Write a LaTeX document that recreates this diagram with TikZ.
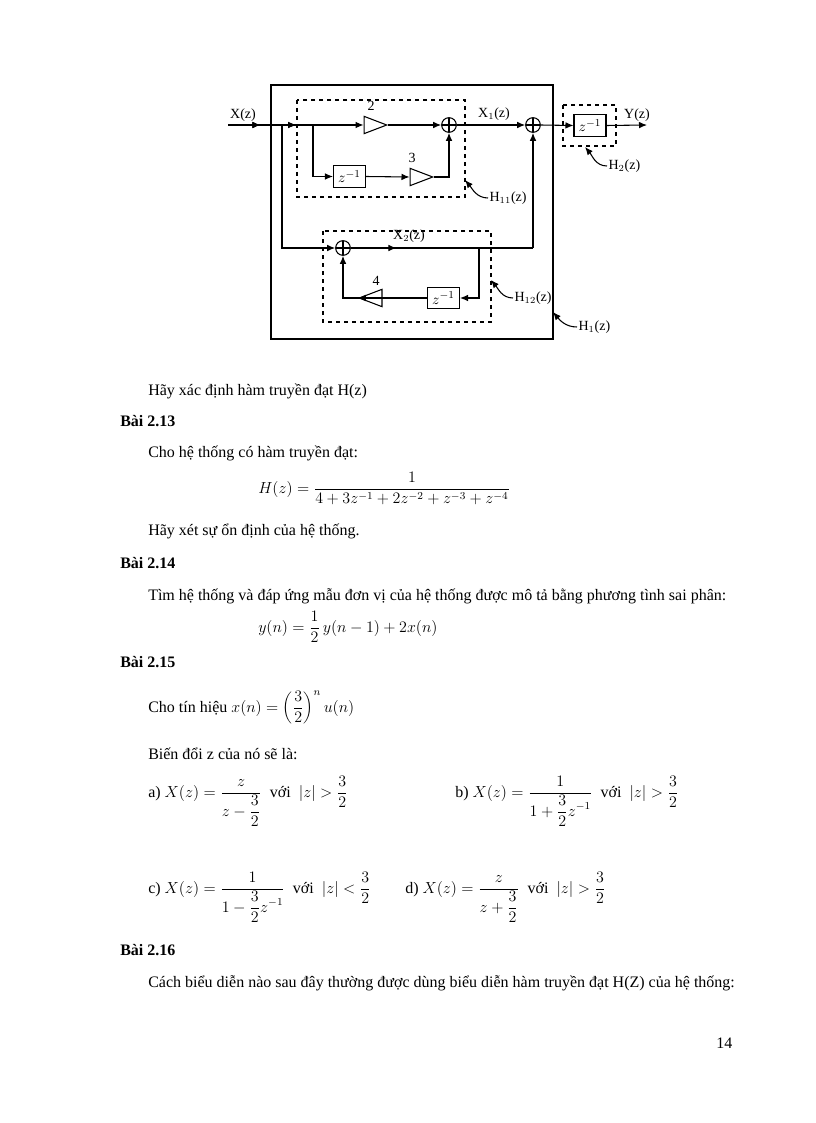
\documentclass[tikz,border=0pt]{standalone}
\usepackage{fontspec}
\setmainfont{Liberation Serif}
\usetikzlibrary{shapes.geometric,arrows.meta,decorations.markings}
\tikzset{
 sumn/.style={circle,draw,thick,minimum size=11pt,inner sep=0pt,path picture={\draw[thick] (path picture bounding box.north)--(path picture bounding box.south) (path picture bounding box.west)--(path picture bounding box.east);}},
 zbox/.style={draw,thick,minimum width=24pt,minimum height=16pt,inner sep=0pt,font=\fontsize{11}{12}\selectfont},
 gainr/.style={isosceles triangle,draw,thick,isosceles triangle stretches,minimum width=13pt,minimum height=17pt,inner sep=0pt},
 gainl/.style={gainr,shape border rotate=180},
 dbox/.style={draw,thick,dashed},
 sig/.style={thick},
 arr/.style={thick,-{Latex[length=6pt,width=5pt]}},
 marr/.style={postaction={decorate},decoration={markings,mark=at position #1 with {\arrow{Latex[length=6pt,width=5pt]}}}},
 lab/.style={font=\fontsize{10.5}{12}\selectfont,inner sep=1pt},
 callout/.style={arr,out=180,in=-50},
 txt/.style={anchor=base west,inner sep=0pt,font=\fontsize{12}{14}\selectfont},
 bai/.style={txt,font=\fontsize{12}{14}\selectfont\bfseries},
}
\newcommand{\tf}[2]{\displaystyle\frac{\displaystyle #1}{\displaystyle #2}}
\begin{document}
\begin{tikzpicture}[x=0.75pt,y=-0.75pt]
\useasboundingbox (0,0) rectangle (816,1123);
% frames
\draw[thick] (271,85) rectangle (553,339);
\draw[dbox] (297,100) rectangle (465,197);
\draw[dbox] (323,231) rectangle (491,322);
\draw[dbox] (563,105) rectangle (616,146);
% blocks
\node[sumn] (s1) at (449,125) {};
\node[sumn] (s2) at (533,125) {};
\node[sumn] (s3) at (343,248) {};
\node[gainr] (g2) at (370,125) {};
\node[gainr] (g3) at (416,177) {};
\node[gainl] (g4) at (376,298) {};
\node[zbox] (z1) at (349.5,176.5) {$z^{-1}$};
\node[zbox] (z2) at (590,125.5) {$z^{-1}$};
\node[zbox] (z3) at (443.5,298) {$z^{-1}$};
\coordinate (in) at (228,125);
\coordinate (b1) at (282,125);
\coordinate (b2) at (313,125);
\coordinate (b3) at (282,248);
\coordinate (c2) at (533,248);
\coordinate (c3) at (479,248);
\coordinate (out) at (647,125);
% connectors
\draw[sig,marr=0.38,marr=0.8] (in) -- (b2);
\draw[arr] (b2) -- (g2.west);
\draw[arr] (g2.east) -- (s1.west);
\draw[arr] (s1.east) -- (s2.west);
\draw[arr] (s2.east) -- (z2.west);
\draw[arr] (z2.east) -- (out);
\draw[arr] (b2) |- (z1.west);
\draw[arr] (z1.east) -- (g3.west);
\draw[arr] (g3.east) -| (s1.south);
\draw[arr] (b1) |- (s3.west);
\draw[sig,marr=0.25] (s3.east) -- (c2);
\draw[arr] (c2) -- (s2.south);
\draw[arr] (c3) |- (z3.east);
\draw[arr] (z3.west) -- (g4.west);
\draw[arr] (g4.east) -| (s3.south);
% labels
\node[lab] (lx) at (243,115) {X(z)};
\node[lab] (lx1) at (494,114) {X$_1$(z)};
\node[lab] (ly) at (637,115) {Y(z)};
\node[lab] (lx2) at (409,236) {X$_2$(z)};
\node[lab] (l2) at (371,106) {2};
\node[lab] (l3) at (412,158) {3};
\node[lab] (l4) at (376,281) {4};
\node[lab,anchor=west] (h11) at (488,198) {H$_{11}$(z)};
\node[lab,anchor=west] (h12) at (513,298) {H$_{12}$(z)};
\node[lab,anchor=west] (h2) at (607,166) {H$_2$(z)};
\node[lab,anchor=west] (h1) at (577,327) {H$_1$(z)};
\coordinate (t11) at (465,180);
\coordinate (t12) at (491,280);
\coordinate (t2) at (585,147);
\coordinate (t1) at (553,312);
\draw[callout] (h11.west) to (t11);
\draw[callout] (h12.west) to (t12);
\draw[callout] (h2.west) to (t2);
\draw[callout] (h1.west) to (t1);
% page text
\node[txt] (p1) at (148,395) {Hãy xác định hàm truyền đạt H(z)};
\node[bai] (p2) at (120,426) {Bài 2.13};
\node[txt] (p3) at (148,457) {Cho hệ thống có hàm truyền đạt:};
\node[txt] (p4) at (258,493) {$\displaystyle H(z)=\frac{1}{4+3z^{-1}+2z^{-2}+z^{-3}+z^{-4}}$};
\node[txt] (p5) at (148,535) {Hãy xét sự ổn định của hệ thống.};
\node[bai] (p6) at (120,568) {Bài 2.14};
\node[txt] (p7) at (148,600) {Tìm hệ thống và đáp ứng mẫu đơn vị của hệ thống được mô tả bằng phương tình sai phân:};
\node[txt] (p8) at (258,632) {$\displaystyle y(n)=\frac{1}{2}\,y(n-1)+2x(n)$};
\node[bai] (p9) at (120,667) {Bài 2.15};
\node[txt] (p10) at (148,712) {Cho tín hiệu $\displaystyle x(n)=\left(\frac{3}{2}\right)^{n}u(n)$};
\node[txt] (p11) at (148,759) {Biến đổi z của nó sẽ là:};
\node[txt] (pa) at (148,797) {a) $\displaystyle X(z)=\tf{z}{z-\tf{3}{2}}$ \ với \ $\displaystyle |z|>\frac{3}{2}$};
\node[txt] (pb) at (455,797) {b) $\displaystyle X(z)=\tf{1}{1+\tf{3}{2}z^{-1}}$ \ với \ $\displaystyle |z|>\frac{3}{2}$};
\node[txt] (pc) at (148,893) {c) $\displaystyle X(z)=\tf{1}{1-\tf{3}{2}z^{-1}}$ \ với \ $\displaystyle |z|<\frac{3}{2}$};
\node[txt] (pd) at (405,893) {d) $\displaystyle X(z)=\tf{z}{z+\tf{3}{2}}$ \ với \ $\displaystyle |z|>\frac{3}{2}$};
\node[bai] (p12) at (120,955) {Bài 2.16};
\node[txt] (p13) at (148,987) {Cách biểu diễn nào sau đây thường được dùng biểu diễn hàm truyền đạt H(Z) của hệ thống:};
\node[txt] (pn) at (716,1048) {14};
\end{tikzpicture}
\end{document}
